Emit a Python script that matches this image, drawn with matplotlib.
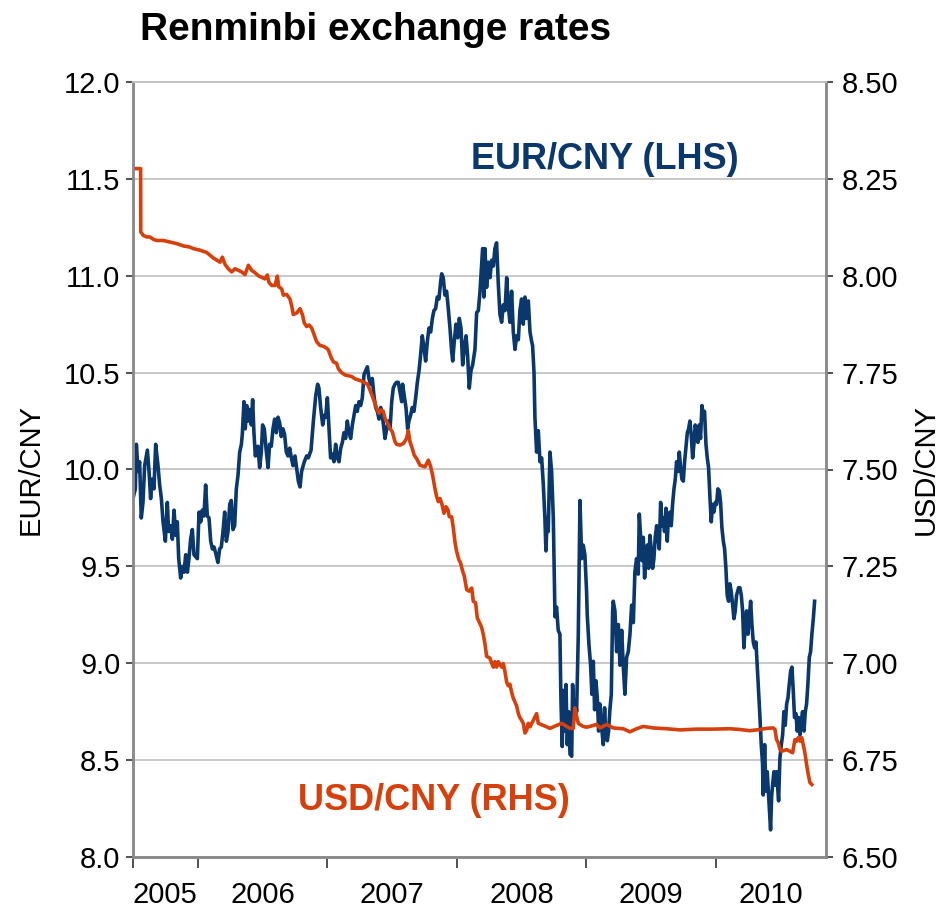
import matplotlib
matplotlib.use("Agg")
import matplotlib.pyplot as plt
from matplotlib.ticker import FixedLocator, NullFormatter, FixedFormatter

plt.rcParams['font.family'] = ['Liberation Sans', 'DejaVu Sans']

# ---- data (decimal years, values) ----
eur_dates = [
    2005.500, 2005.518, 2005.526, 2005.539, 2005.551, 2005.564, 2005.577, 2005.590, 2005.611, 2005.624,
    2005.636, 2005.647, 2005.662, 2005.675, 2005.693, 2005.706, 2005.719, 2005.732, 2005.750, 2005.765,
    2005.775, 2005.791, 2005.804, 2005.817, 2005.830, 2005.842, 2005.853, 2005.868, 2005.881, 2005.894,
    2005.907, 2005.920, 2005.932, 2005.945, 2005.958, 2005.971, 2005.984, 2005.997, 2006.010, 2006.023,
    2006.035, 2006.048, 2006.061, 2006.074, 2006.087, 2006.100, 2006.113, 2006.126, 2006.138, 2006.156,
    2006.169, 2006.182, 2006.195, 2006.208, 2006.221, 2006.234, 2006.247, 2006.259, 2006.272, 2006.285,
    2006.298, 2006.311, 2006.324, 2006.337, 2006.344, 2006.357, 2006.367, 2006.378, 2006.388, 2006.401,
    2006.414, 2006.424, 2006.434, 2006.445, 2006.455, 2006.465, 2006.478, 2006.491, 2006.501, 2006.514,
    2006.527, 2006.543, 2006.555, 2006.568, 2006.581, 2006.594, 2006.607, 2006.620, 2006.633, 2006.645,
    2006.658, 2006.671, 2006.684, 2006.697, 2006.710, 2006.723, 2006.736,
    2006.751, 2006.777, 2006.790, 2006.802, 2006.823, 2006.841, 2006.854, 2006.875, 2006.893, 2006.911,
    2006.926, 2006.936, 2006.949, 2006.965, 2006.978, 2006.988, 2007.001, 2007.014, 2007.026, 2007.039,
    2007.052, 2007.065, 2007.078, 2007.091, 2007.104, 2007.117, 2007.129, 2007.142, 2007.155, 2007.168,
    2007.181, 2007.194, 2007.207, 2007.220, 2007.232, 2007.245, 2007.258, 2007.271, 2007.284, 2007.297,
    2007.310, 2007.322, 2007.335, 2007.348, 2007.361, 2007.374, 2007.387, 2007.400, 2007.413, 2007.425,
    2007.438, 2007.446, 2007.459, 2007.472, 2007.485, 2007.498, 2007.510, 2007.523, 2007.536, 2007.549,
    2007.562, 2007.575, 2007.582, 2007.595, 2007.608, 2007.621, 2007.631, 2007.644, 2007.657, 2007.670,
    2007.683, 2007.696, 2007.709, 2007.721, 2007.734, 2007.747, 2007.760, 2007.773, 2007.786, 2007.799,
    2007.812, 2007.824, 2007.837, 2007.850, 2007.863, 2007.876, 2007.884, 2007.896, 2007.909, 2007.922,
    2007.935, 2007.948, 2007.961, 2007.969, 2007.981, 2007.994, 2008.007, 2008.020, 2008.033, 2008.046,
    2008.059, 2008.072, 2008.084, 2008.097, 2008.110, 2008.123,
    2008.141, 2008.154, 2008.167, 2008.180, 2008.192, 2008.200, 2008.210, 2008.218, 2008.231, 2008.244,
    2008.257, 2008.270, 2008.283, 2008.295, 2008.308, 2008.321, 2008.334, 2008.347, 2008.360, 2008.373,
    2008.386, 2008.398, 2008.411, 2008.424, 2008.437, 2008.450, 2008.463, 2008.476, 2008.488, 2008.501,
    2008.514, 2008.527, 2008.540, 2008.553, 2008.566, 2008.579, 2008.586, 2008.597,
    2008.604, 2008.617, 2008.630, 2008.643, 2008.656, 2008.669, 2008.681, 2008.689, 2008.699, 2008.707,
    2008.720, 2008.733, 2008.746, 2008.759, 2008.771, 2008.784, 2008.797, 2008.805, 2008.815, 2008.823,
    2008.836, 2008.844, 2008.854, 2008.864, 2008.875, 2008.888, 2008.895, 2008.905, 2008.916, 2008.926,
    2008.939,
    2008.952, 2008.965, 2008.977, 2008.990, 2009.003, 2009.008, 2009.021, 2009.034, 2009.044, 2009.055,
    2009.065, 2009.075, 2009.086, 2009.096, 2009.106, 2009.119, 2009.132, 2009.142, 2009.152, 2009.163,
    2009.173, 2009.183, 2009.194, 2009.204, 2009.209, 2009.222, 2009.235, 2009.248, 2009.261, 2009.274,
    2009.286, 2009.299, 2009.312, 2009.325, 2009.338, 2009.351, 2009.364, 2009.376, 2009.389, 2009.402,
    2009.410, 2009.420, 2009.431, 2009.441, 2009.451, 2009.461, 2009.472, 2009.482, 2009.492, 2009.502,
    2009.513, 2009.523, 2009.533, 2009.544, 2009.554, 2009.564, 2009.575, 2009.585, 2009.595, 2009.605,
    2009.616, 2009.626, 2009.636, 2009.647, 2009.657, 2009.667, 2009.678, 2009.688, 2009.698, 2009.709,
    2009.719, 2009.729, 2009.739, 2009.750, 2009.760, 2009.770, 2009.781, 2009.791, 2009.801, 2009.811,
    2009.822, 2009.832, 2009.842, 2009.853, 2009.863, 2009.873, 2009.883, 2009.894, 2009.904, 2009.914,
    2009.925, 2009.935, 2009.945, 2009.956, 2009.966, 2009.976, 2009.986, 2009.997, 2010.007, 2010.017,
    2010.028, 2010.038, 2010.048, 2010.059, 2010.069, 2010.079, 2010.089, 2010.100, 2010.110, 2010.120,
    2010.131, 2010.141, 2010.151, 2010.161, 2010.177,
    2010.187, 2010.198, 2010.208, 2010.218, 2010.229, 2010.239, 2010.249, 2010.259, 2010.270, 2010.280,
    2010.290, 2010.301, 2010.311, 2010.321, 2010.331, 2010.342, 2010.352, 2010.362, 2010.367, 2010.378,
    2010.388, 2010.398, 2010.409, 2010.419, 2010.424, 2010.432, 2010.439, 2010.450, 2010.460, 2010.470,
    2010.481, 2010.486, 2010.496, 2010.507, 2010.517, 2010.527, 2010.537, 2010.548, 2010.558, 2010.568,
    2010.579, 2010.589, 2010.599, 2010.609, 2010.620, 2010.630, 2010.640, 2010.651, 2010.661, 2010.671,
    2010.682, 2010.692, 2010.702, 2010.712, 2010.723, 2010.733, 2010.743, 2010.754, 2010.764,
]
eur_cny = [
    9.85, 9.90, 10.13, 9.99, 10.04, 9.75, 9.83, 10.02, 10.10, 9.99,
    9.85, 9.95, 9.90, 10.13, 10.02, 9.92, 9.85, 9.73, 9.63, 9.83,
    9.68, 9.71, 9.64, 9.79, 9.66, 9.73, 9.54, 9.44, 9.50, 9.47,
    9.56, 9.47, 9.54, 9.64, 9.69, 9.56, 9.55, 9.54, 9.78, 9.73,
    9.79, 9.76, 9.92, 9.76, 9.75, 9.63, 9.59, 9.60, 9.57, 9.52,
    9.59, 9.60, 9.68, 9.78, 9.63, 9.68, 9.82, 9.84, 9.69, 9.71,
    9.90, 9.97, 10.09, 10.13, 10.18, 10.35, 10.21, 10.33, 10.25, 10.31,
    10.23, 10.36, 10.19, 10.07, 10.11, 10.12, 10.01, 10.09, 10.23, 10.21,
    10.11, 10.01, 10.13, 10.12, 10.21, 10.26, 10.19, 10.27, 10.24, 10.17,
    10.21, 10.18, 10.09, 10.07, 10.11, 10.06, 10.02,
    10.07, 9.94, 9.91, 9.99, 10.04, 10.07, 10.06, 10.10, 10.25, 10.38,
    10.44, 10.42, 10.32, 10.23, 10.28, 10.27, 10.37, 10.21, 10.06, 10.08,
    10.04, 10.13, 10.06, 10.04, 10.11, 10.14, 10.19, 10.16, 10.25, 10.19,
    10.16, 10.23, 10.28, 10.33, 10.30, 10.35, 10.33, 10.37, 10.49, 10.51,
    10.53, 10.47, 10.44, 10.47, 10.38, 10.32, 10.30, 10.26, 10.32, 10.28,
    10.21, 10.16, 10.21, 10.25, 10.21, 10.35, 10.42, 10.44, 10.45, 10.45,
    10.40, 10.35, 10.44, 10.38, 10.32, 10.21, 10.25, 10.28, 10.32, 10.30,
    10.37, 10.45, 10.51, 10.59, 10.69, 10.63, 10.56, 10.66, 10.73, 10.71,
    10.78, 10.82, 10.83, 10.89, 10.88, 10.97, 11.01, 10.99, 10.90, 10.92,
    10.83, 10.73, 10.61, 10.56, 10.66, 10.75, 10.68, 10.78, 10.73, 10.54,
    10.63, 10.69, 10.59, 10.42, 10.51, 10.54,
    10.62, 10.81, 10.82, 10.92, 11.05, 11.14, 10.89, 11.14, 10.94, 11.07,
    10.99, 11.08, 11.05, 11.14, 11.17, 10.96, 10.80, 10.76, 10.85, 10.82,
    10.99, 10.85, 10.76, 10.92, 10.71, 10.62, 10.69, 10.67, 10.82, 10.88,
    10.75, 10.89, 10.78, 10.87, 10.71, 10.66, 10.64, 10.50,
    10.27, 10.09, 10.20, 10.04, 10.06, 9.92, 9.75, 9.58, 9.75, 9.68,
    10.09, 9.99, 9.75, 9.24, 9.29, 9.17, 9.15, 8.81, 8.57, 8.86,
    8.65, 8.89, 8.58, 8.75, 8.53, 8.52, 8.89, 8.75, 8.81, 8.75,
    9.15,
    9.84, 9.54, 9.61, 9.56, 9.37, 9.25, 9.10, 8.99, 8.84, 9.01,
    8.76, 8.91, 8.82, 8.65, 8.79, 8.67, 8.58, 8.77, 8.62, 8.60,
    8.65, 8.76, 8.84, 9.27, 9.32, 9.27, 9.06, 9.20, 8.99, 9.17,
    8.99, 8.84, 9.03, 9.06, 9.15, 9.30, 9.21, 9.47, 9.54, 9.46,
    9.77, 9.66, 9.53, 9.65, 9.44, 9.56, 9.61, 9.49, 9.66, 9.59,
    9.49, 9.54, 9.65, 9.71, 9.65, 9.59, 9.83, 9.71, 9.75, 9.68,
    9.80, 9.63, 9.77, 9.78, 9.71, 9.82, 9.90, 9.95, 10.04, 9.99,
    10.09, 10.01, 9.95, 9.94, 10.04, 10.11, 10.19, 10.21, 10.25, 10.18,
    10.06, 10.13, 10.23, 10.19, 10.14, 10.23, 10.16, 10.33, 10.28, 10.30,
    10.13, 10.06, 10.01, 9.85, 9.73, 9.82, 9.78, 9.83, 9.82, 9.90,
    9.89, 9.83, 9.70, 9.63, 9.59, 9.49, 9.35, 9.32, 9.41, 9.37,
    9.30, 9.23, 9.27, 9.35, 9.39,
    9.39, 9.35, 9.27, 9.08, 9.20, 9.27, 9.15, 9.23, 9.32, 9.20,
    9.11, 9.08, 9.11, 8.99, 8.86, 8.72, 8.58, 8.48, 8.32, 8.58,
    8.34, 8.44, 8.31, 8.19, 8.14, 8.31, 8.37, 8.44, 8.37, 8.44,
    8.34, 8.29, 8.51, 8.58, 8.63, 8.75, 8.68, 8.79, 8.82, 8.89,
    8.96, 8.98, 8.86, 8.72, 8.74, 8.65, 8.72, 8.63, 8.70, 8.75,
    8.65, 8.75, 8.79, 8.89, 9.03, 9.06, 9.15, 9.23, 9.32,
]

usd_dates = [
    2005.500, 2005.559, 2005.560, 2005.580, 2005.606, 2005.631, 2005.657, 2005.683, 2005.734, 2005.786,
    2005.837, 2005.889, 2005.940, 2005.966, 2006.017, 2006.069, 2006.120, 2006.172, 2006.190, 2006.210,
    2006.236, 2006.262, 2006.288, 2006.339, 2006.365, 2006.391, 2006.416, 2006.442, 2006.468, 2006.519,
    2006.537, 2006.550, 2006.571, 2006.597, 2006.615, 2006.625, 2006.648, 2006.661, 2006.687, 2006.712,
    2006.725, 2006.738, 2006.764, 2006.790,
    2006.808, 2006.823, 2006.841, 2006.859, 2006.880, 2006.900, 2006.918, 2006.944, 2006.970, 2006.996,
    2007.008, 2007.029, 2007.047, 2007.073, 2007.086, 2007.111, 2007.137, 2007.189, 2007.214, 2007.266,
    2007.312, 2007.330, 2007.348, 2007.364, 2007.382, 2007.400, 2007.415, 2007.433, 2007.446, 2007.467,
    2007.485, 2007.503, 2007.523, 2007.536, 2007.562, 2007.588, 2007.613, 2007.626, 2007.639, 2007.657,
    2007.672, 2007.691, 2007.709,
    2007.716, 2007.755, 2007.781, 2007.799, 2007.814, 2007.832, 2007.845, 2007.858, 2007.871, 2007.884,
    2007.902, 2007.917, 2007.932, 2007.943, 2007.961, 2007.974, 2007.986, 2007.999, 2008.017, 2008.030,
    2008.043, 2008.059, 2008.077, 2008.095, 2008.116, 2008.128, 2008.146, 2008.159,
    2008.180, 2008.192, 2008.205, 2008.218, 2008.231, 2008.257, 2008.270, 2008.283, 2008.295, 2008.308,
    2008.321, 2008.347, 2008.360, 2008.373, 2008.386, 2008.398, 2008.411, 2008.424, 2008.437, 2008.450,
    2008.463, 2008.476, 2008.488, 2008.501, 2008.514, 2008.527, 2008.540, 2008.553, 2008.566, 2008.592,
    2008.617, 2008.630, 2008.694, 2008.720, 2008.810, 2008.875, 2008.900, 2008.913, 2008.926, 2008.939,
    2008.952, 2008.977, 2009.003, 2009.029, 2009.080, 2009.106, 2009.158, 2009.209, 2009.286, 2009.338,
    2009.389, 2009.441, 2009.518, 2009.621, 2009.724, 2009.853, 2009.981, 2010.110, 2010.187,
    2010.264, 2010.342, 2010.393, 2010.445, 2010.458, 2010.470, 2010.483, 2010.496, 2010.509, 2010.548,
    2010.573, 2010.594, 2010.612, 2010.625, 2010.638, 2010.651, 2010.664, 2010.676, 2010.689, 2010.702,
    2010.715, 2010.728, 2010.743,
]
usd_cny = [
    8.2765, 8.2765, 8.113, 8.104, 8.100, 8.100, 8.094, 8.091, 8.091, 8.087,
    8.083, 8.077, 8.074, 8.070, 8.066, 8.060, 8.046, 8.035, 8.048, 8.030,
    8.018, 8.010, 8.018, 8.010, 8.003, 8.027, 8.014, 8.008, 8.000, 7.992,
    8.002, 7.983, 7.975, 7.975, 7.999, 7.972, 7.966, 7.950, 7.952, 7.940,
    7.923, 7.900, 7.904, 7.915,
    7.900, 7.878, 7.869, 7.873, 7.865, 7.847, 7.830, 7.820, 7.818, 7.813,
    7.809, 7.790, 7.778, 7.774, 7.760, 7.750, 7.744, 7.740, 7.734, 7.728,
    7.720, 7.705, 7.690, 7.675, 7.658, 7.645, 7.654, 7.650, 7.632, 7.619,
    7.606, 7.597, 7.572, 7.565, 7.563, 7.567, 7.580, 7.600, 7.572, 7.554,
    7.537, 7.528, 7.516,
    7.511, 7.507, 7.524, 7.507, 7.485, 7.451, 7.430, 7.417, 7.425, 7.413,
    7.387, 7.404, 7.396, 7.378, 7.378, 7.348, 7.314, 7.289, 7.267, 7.259,
    7.241, 7.224, 7.190, 7.186, 7.194, 7.160, 7.156, 7.117,
    7.102, 7.093, 7.075, 7.050, 7.018, 7.013, 7.000, 6.990, 7.004, 6.990,
    7.004, 6.990, 6.999, 6.978, 6.951, 6.942, 6.946, 6.925, 6.910, 6.900,
    6.890, 6.870, 6.860, 6.853, 6.845, 6.820, 6.827, 6.845, 6.836, 6.853,
    6.870, 6.845, 6.836, 6.832, 6.845, 6.832, 6.832, 6.885, 6.863, 6.845,
    6.842, 6.837, 6.835, 6.837, 6.842, 6.833, 6.842, 6.833, 6.831, 6.823,
    6.831, 6.837, 6.833, 6.831, 6.828, 6.830, 6.830, 6.831, 6.829,
    6.826, 6.829, 6.832, 6.833, 6.829, 6.803, 6.795, 6.778, 6.773, 6.777,
    6.773, 6.769, 6.803, 6.799, 6.808, 6.799, 6.808, 6.790, 6.769, 6.739,
    6.713, 6.692, 6.687,
]

year_bounds = [2005.5, 2006, 2007, 2008, 2009, 2010]
year_label_pos = [2005.75, 2006.5, 2007.5, 2008.5, 2009.5, 2010.426]
year_labels = ['2005', '2006', '2007', '2008', '2009', '2010']
left_ticks = [8.0, 8.5, 9.0, 9.5, 10.0, 10.5, 11.0, 11.5, 12.0]
right_ticks = [6.50, 6.75, 7.00, 7.25, 7.50, 7.75, 8.00, 8.25, 8.50]

BLUE = '#0b386c'
ORANGE = '#d5400c'
SPINE = '#8a8a8a'
GRID = '#c4c4c4'

fig = plt.figure(figsize=(9.41, 9.15), dpi=100)
ax = fig.add_axes([133/941, 1-857/915, (826-133)/941, (857-82)/915])
ax2 = ax.twinx()

ax.plot(eur_dates, eur_cny, color=BLUE, lw=2.6, solid_joinstyle='round')
ax2.plot(usd_dates, usd_cny, color=ORANGE, lw=2.6, solid_joinstyle='round')

ax.set_xlim(2005.5, 2010.852)
ax.set_ylim(8.0, 12.0)
ax2.set_ylim(6.5, 8.5)

ax.set_yticks(left_ticks)
ax.set_yticklabels([f'{v:.1f}' for v in left_ticks])
ax2.set_yticks(right_ticks)
ax2.set_yticklabels([f'{v:.2f}' for v in right_ticks])

ax.xaxis.set_major_locator(FixedLocator(year_bounds))
ax.xaxis.set_major_formatter(NullFormatter())
ax.xaxis.set_minor_locator(FixedLocator(year_label_pos))
ax.xaxis.set_minor_formatter(FixedFormatter(year_labels))
ax.tick_params(axis='x', which='major', direction='out', length=8, width=1.2, color='#333333')
ax.tick_params(axis='x', which='minor', length=0, pad=17, labelsize=21)

ax.tick_params(axis='y', direction='out', length=5, width=1.2, color='#333333', labelsize=21, pad=4)
ax2.tick_params(axis='y', direction='out', length=5, width=1.2, color='#333333', labelsize=21, pad=6)

ax.grid(axis='y', color=GRID, lw=1.3)
ax.set_axisbelow(True)

for a in (ax, ax2):
    a.spines['top'].set_color(GRID)
    a.spines['top'].set_linewidth(1.3)
    for s in ('left', 'right', 'bottom'):
        a.spines[s].set_color(SPINE)
        a.spines[s].set_linewidth(1.8)

ax.set_ylabel('EUR/CNY', fontsize=21, labelpad=14)
ax2.set_ylabel('USD/CNY', fontsize=21, labelpad=10)

ax.text(2009.145, 11.60, 'EUR/CNY (LHS)', color=BLUE, fontsize=26, fontweight='bold',
        ha='center', va='center')
ax.text(2007.824, 8.294, 'USD/CNY (RHS)', color=ORANGE, fontsize=26, fontweight='bold',
        ha='center', va='center')

fig.text(140/941, 1-30/915, 'Renminbi exchange rates', fontsize=28, fontweight='bold',
         ha='left', va='center')

fig.savefig('out.png', dpi=100)
